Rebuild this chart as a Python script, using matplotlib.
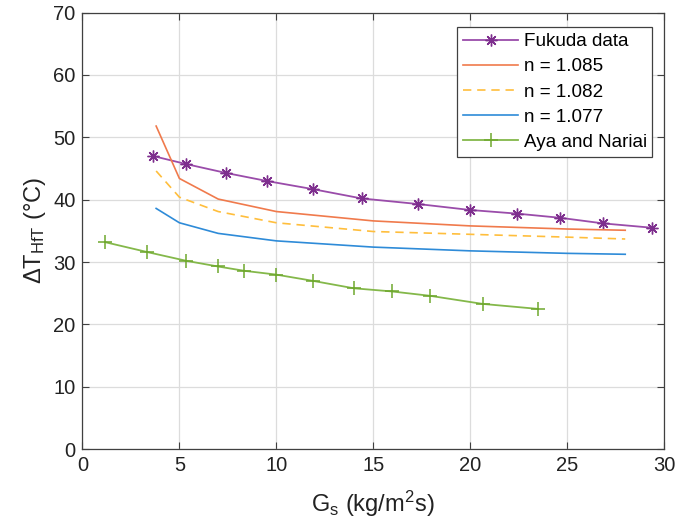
import matplotlib
matplotlib.use("Agg")
import matplotlib.pyplot as plt

plt.rcParams['font.family'] = ['Liberation Sans', 'DejaVu Sans']
plt.rcParams['mathtext.fontset'] = 'custom'
plt.rcParams['mathtext.rm'] = 'Liberation Sans'
plt.rcParams['mathtext.it'] = 'Liberation Sans'

# Fukuda measurements
fukuda_g = [3.64, 5.36, 7.38, 9.50, 11.87, 14.4, 17.32, 20.0, 22.44, 24.64, 26.86, 29.4]
fukuda_dt = [47.0, 45.7, 44.3, 43.0, 41.7, 40.2, 39.3, 38.35, 37.76, 37.1, 36.2, 35.5]

# Model curves for three exponents
model_g = [3.8, 5.0, 7.0, 10.0, 15.0, 20.0, 25.0, 28.0]
n1085_dt = [51.8, 43.4, 40.1, 38.1, 36.6, 35.8, 35.3, 35.1]
n1082_dt = [44.6, 40.4, 38.1, 36.3, 34.9, 34.45, 34.0, 33.7]
n1077_dt = [38.6, 36.3, 34.6, 33.4, 32.4, 31.8, 31.4, 31.25]

# Aya and Nariai correlation
aya_g = [1.16, 3.35, 5.36, 6.98, 8.35, 9.98, 11.87, 14.0, 15.95, 17.92, 20.64, 23.49]
aya_dt = [33.2, 31.6, 30.2, 29.3, 28.6, 28.0, 27.0, 25.8, 25.3, 24.6, 23.3, 22.5]

fig = plt.figure(figsize=(6.75, 5.32), dpi=100)
ax = fig.add_axes([0.1222, 0.1555, 0.8615, 0.821])

ax.plot(fukuda_g, fukuda_dt, color='#9A4CAA', lw=1.3, marker=(8, 2, 0), ms=8.5,
        mec='#7E2F8E', mew=1.0, label='Fukuda data')
ax.plot(model_g, n1085_dt, color='#F07A4C', lw=1.2, label='n = 1.085')
ax.plot(model_g, n1082_dt, color='#FFBE3C', lw=1.2, ls=(0, (5, 3.5)), label='n = 1.082')
ax.plot(model_g, n1077_dt, color='#2E8BD8', lw=1.2, label='n = 1.077')
ax.plot(aya_g, aya_dt, color='#84B84A', lw=1.3, marker='+', ms=9.5, mew=1.1,
        mec='#6FA82E', label='Aya and Nariai')

ax.set_xlim(0, 30)
ax.set_ylim(0, 70)
ax.set_xticks(range(0, 31, 5))
ax.set_yticks(range(0, 71, 10))
ax.grid(True, color='#DCDCDC', lw=0.9)
ax.set_axisbelow(True)
ax.tick_params(direction='in', top=True, right=True, labelsize=14.5,
               color='#404040', length=5, labelcolor='#222222', pad=5)
for s in ax.spines.values():
    s.set_color('#404040')
    s.set_linewidth(0.9)

ax.set_xlabel(r'G$_\mathrm{s}$ (kg/m$^\mathrm{2}$s)', fontsize=17, color='#222222', labelpad=10)
ax.set_ylabel(r'$\Delta$T$_\mathrm{HfT}$ ($\degree$C)', fontsize=17, color='#222222', labelpad=4)

leg = ax.legend(loc='upper right', bbox_to_anchor=(0.98, 0.966), fontsize=13.6,
                frameon=True, fancybox=False, edgecolor='#404040', framealpha=1,
                handlelength=2.9, borderpad=0.3, labelspacing=0.42, handletextpad=0.3,
                borderaxespad=0)
leg.get_frame().set_linewidth(0.9)

fig.savefig('out.png', dpi=100)
